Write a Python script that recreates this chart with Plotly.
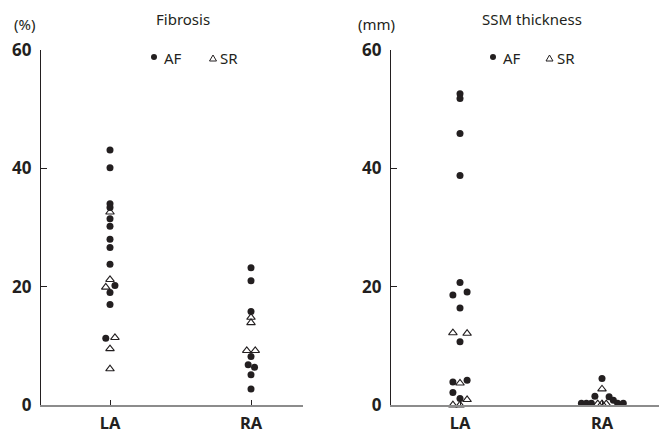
import plotly.graph_objects as go

W, H = 667, 431
PAGE_OFFSET = 8  # default body margin of the html page

categories = ["LA", "RA"]
y_tick_vals = [0, 20, 40, 60]
y_tick_text = ["0", "20", "40", "60"]
titles = ["Fibrosis", "SSM thickness"]
units = ["(%)", "(mm)"]
legend_names = ["AF", "SR"]

# ---- Fibrosis (%) ----
fib_la_af = [43.1, 40.1, 34.0, 33.4, 31.5, 30.2, 28.0, 26.6, 23.8, 20.2, 19.0, 17.0, 11.3]
fib_la_af_dodge = [0, 0, 0, 0, 0, 0, 0, 0, 0, 0.7, 0, 0, -0.6]
fib_la_sr = [32.6, 21.2, 19.9, 11.4, 9.5, 6.1]
fib_la_sr_dodge = [0, 0, -0.6, 0.7, 0, 0]
fib_ra_af = [23.2, 21.0, 15.8, 8.2, 6.8, 6.4, 5.1, 2.7]
fib_ra_af_dodge = [0, 0, 0, 0, -0.4, 0.5, 0, 0]
fib_ra_sr = [14.8, 13.9, 9.2, 9.2]
fib_ra_sr_dodge = [0, 0, -0.6, 0.6]

# ---- SSM thickness (mm) ----
ssm_la_af = [52.6, 51.8, 45.9, 38.8, 20.7, 19.1, 18.6, 16.4, 10.7, 4.2, 3.9, 2.1, 1.1]
ssm_la_af_dodge = [0, 0, 0, 0, 0, 1, -1, 0, 0, 1, -1, -1, 0]
ssm_la_sr = [12.2, 12.1, 3.7, 0.9, 0.0, 0.0]
ssm_la_sr_dodge = [-1, 1, 0, 1, -1, 0]
ssm_ra_af = [4.5, 1.5, 1.4, 0.8, 0.3, 0.3, 0.3, 0.3, 0.3]
ssm_ra_af_dodge = [0, -1, 1, 1.6, -2.9, -2.2, -1.5, 2.2, 3.0]
ssm_ra_sr = [2.7, 0.2, 0.2, 0.2]
ssm_ra_sr_dodge = [0, -0.6, 0, 0.6]

SLOT = 0.05  # horizontal dodge step (category units)
INK = "#231f20"
FONT = "Noto Sans"


def xs(cat_index, dodge):
    return [cat_index + d * SLOT for d in dodge]


def px(x):
    return (x - PAGE_OFFSET) / W


def py(y):
    return 1 - (y - PAGE_OFFSET) / H


fig = go.Figure()

panels = [
    ("x", "y", [(fib_la_af, fib_la_af_dodge, fib_ra_af, fib_ra_af_dodge),
                (fib_la_sr, fib_la_sr_dodge, fib_ra_sr, fib_ra_sr_dodge)]),
    ("x2", "y2", [(ssm_la_af, ssm_la_af_dodge, ssm_ra_af, ssm_ra_af_dodge),
                  (ssm_la_sr, ssm_la_sr_dodge, ssm_ra_sr, ssm_ra_sr_dodge)]),
]

for xa, ya, groups in panels:
    for gi, (la, la_d, ra, ra_d) in enumerate(groups):
        is_af = gi == 0
        fig.add_trace(go.Scatter(
            x=xs(0, la_d) + xs(1, ra_d),
            y=la + ra,
            mode="markers",
            name=legend_names[gi],
            xaxis=xa, yaxis=ya,
            cliponaxis=False,
            showlegend=False,
            marker=dict(
                symbol="circle" if is_af else "triangle-up-open",
                size=7 if is_af else 7.5,
                color=INK,
                line=dict(width=0 if is_af else 1.1, color=INK),
            ),
        ))

ydom = [py(405), py(50)]
xdoms = [[px(41), px(303)], [px(391), px(667)]]
xranges = [[-69 / 141, 1 + 52 / 141], [-69 / 142, 1 + 65 / 142]]

common_x = dict(
    tickmode="array", tickvals=[0, 1], ticktext=categories,
    ticks="inside", ticklen=5, tickwidth=1, tickcolor=INK,
    showline=True, linecolor="#8c8c8c", linewidth=2,
    showgrid=False, zeroline=False, fixedrange=True, automargin=False,
    tickfont=dict(family=FONT, size=16.5, color=INK, weight="bold"),
    ticklabelstandoff=2,
)
common_y = dict(
    range=[0, 60], tickmode="array", tickvals=y_tick_vals, ticktext=y_tick_text,
    ticks="inside", ticklen=6, tickwidth=1, tickcolor=INK,
    showline=True, linecolor=INK, linewidth=1.3,
    showgrid=False, zeroline=False, fixedrange=True, automargin=False,
    tickfont=dict(family=FONT, size=17, color=INK, weight="bold"),
    ticklabelstandoff=5,
)

fig.update_layout(
    width=W, height=H,
    margin=dict(l=0, r=0, t=0, b=0, pad=0),
    paper_bgcolor="white", plot_bgcolor="white",
    showlegend=False,
    xaxis=dict(domain=xdoms[0], range=xranges[0], anchor="y", **common_x),
    yaxis=dict(domain=ydom, anchor="x", **common_y),
    xaxis2=dict(domain=xdoms[1], range=xranges[1], anchor="y2", **common_x),
    yaxis2=dict(domain=ydom, anchor="x2", **common_y),
)

annotations = []
shapes = []
title_cx = [182.5, 532]
unit_cx = [24, 376]
legend_dot_x = [154, 493]
legend_tri_x = [213, 549.5]
for i in range(2):
    annotations.append(dict(x=px(title_cx[i]), y=py(19), xref="paper", yref="paper",
                            text=titles[i], showarrow=False, xanchor="center", yanchor="middle",
                            font=dict(family=FONT, size=15, color=INK)))
    annotations.append(dict(x=px(unit_cx[i]), y=py(24), xref="paper", yref="paper",
                            text=units[i], showarrow=False, xanchor="center", yanchor="middle",
                            font=dict(family=FONT, size=15, color=INK)))
    annotations.append(dict(x=px(legend_dot_x[i] + 8), y=py(58), xref="paper", yref="paper",
                            text=legend_names[0], showarrow=False, xanchor="left", yanchor="middle",
                            font=dict(family=FONT, size=15, color=INK)))
    annotations.append(dict(x=px(legend_tri_x[i] + 5), y=py(58), xref="paper", yref="paper",
                            text=legend_names[1], showarrow=False, xanchor="left", yanchor="middle",
                            font=dict(family=FONT, size=15, color=INK)))
    shapes.append(dict(type="circle", xref="paper", yref="paper",
                       xsizemode="pixel", ysizemode="pixel",
                       xanchor=px(legend_dot_x[i]), yanchor=py(57),
                       x0=-3, x1=3, y0=-3, y1=3,
                       fillcolor=INK, line=dict(width=0)))
    shapes.append(dict(type="path", xref="paper", yref="paper",
                       xsizemode="pixel", ysizemode="pixel",
                       xanchor=px(legend_tri_x[i]), yanchor=py(58),
                       path="M-3.5,-3 L3.5,-3 L0,3 Z",
                       fillcolor="rgba(0,0,0,0)", line=dict(width=1, color=INK)))

fig.update_layout(annotations=annotations, shapes=shapes)

fig.write_html("out.html")
